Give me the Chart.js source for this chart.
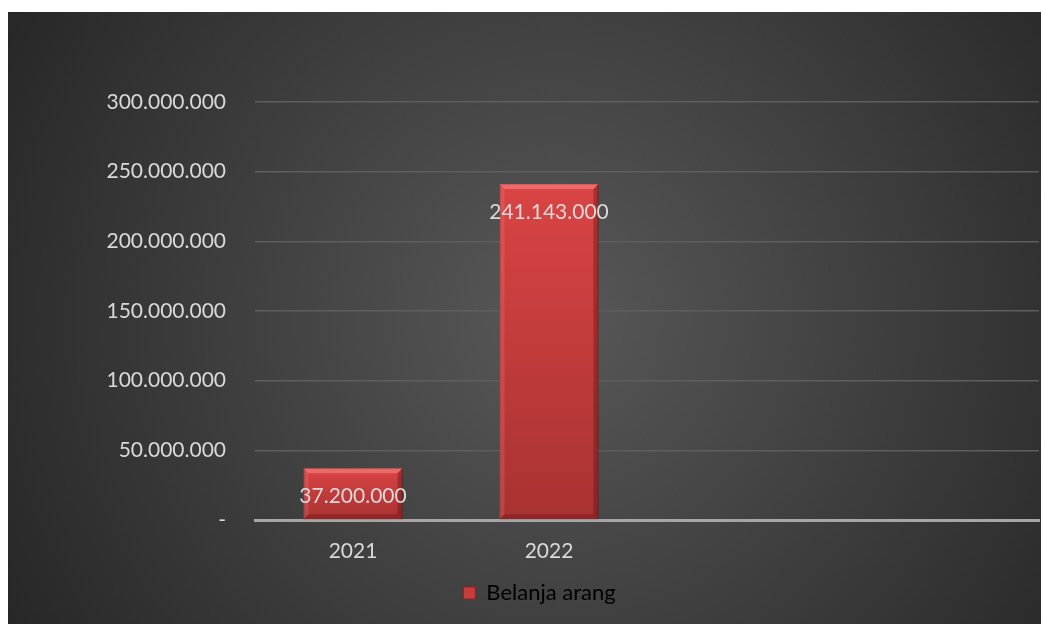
<!DOCTYPE html>
<html>
<head>
<meta charset="utf-8">
<script src="https://cdn.jsdelivr.net/npm/chart.js@4.4.0/dist/chart.umd.min.js"></script>
<style>
  html, body { margin: 0; padding: 0; background: #ffffff; }
  #wrap { position: absolute; left: 8px; top: 12px; width: 1033px; height: 612px; }
</style>
</head>
<body>
<div id="wrap"><canvas id="grafico" width="1033" height="612"></canvas></div>
<script>
// dados do grafico
const categorias = ['2021', '2022', '', ''];
const valores = [37200000, 241143000, null, null];
const nomeSerie = 'Belanja arang';
const ticksY = [0, 50000000, 100000000, 150000000, 200000000, 250000000, 300000000];

const corTexto = '#d9d9d9';
const fonte = 'Lato, "Open Sans", sans-serif';

// formato 1.000.000, zero vira "-"
function formatar(v) {
    if (v === 0) return '-';
    return String(v).replace(/\B(?=(\d{3})+(?!\d))/g, '.');
}

// fundo escuro com degradê radial
const fundo = {
    id: 'fundo',
    beforeDraw(chart) {
        const c = chart.ctx;
        const w = chart.width, h = chart.height;
        const g = c.createRadialGradient(w * 0.53, h * 0.5, 0, w * 0.53, h * 0.5, w * 0.62);
        g.addColorStop(0, '#585858');
        g.addColorStop(1, '#262626');
        c.save();
        c.fillStyle = g;
        c.fillRect(0, 0, w, h);
        c.restore();
    }
};

// efeito de bisel nas barras + rotulos de dados
const rotulos = {
    id: 'rotulos',
    afterDatasetsDraw(chart) {
        const c = chart.ctx;
        const meta = chart.getDatasetMeta(0);
        meta.data.forEach((bar, i) => {
            const v = valores[i];
            if (v == null) return;
            const { x, y, base, width } = bar.getProps(['x', 'y', 'base', 'width'], true);
            const l = x - width / 2, r = x + width / 2;
            const b = 5;
            c.save();
            // topo claro
            c.fillStyle = 'rgba(255,140,140,0.55)';
            c.beginPath();
            c.moveTo(l, y); c.lineTo(r, y); c.lineTo(r - b, y + b); c.lineTo(l + b, y + b); c.closePath();
            c.fill();
            // lados
            c.fillStyle = 'rgba(255,120,120,0.25)';
            c.beginPath();
            c.moveTo(l, y); c.lineTo(l + b, y + b); c.lineTo(l + b, base - b); c.lineTo(l, base); c.closePath();
            c.fill();
            c.fillStyle = 'rgba(90,10,10,0.35)';
            c.beginPath();
            c.moveTo(r, y); c.lineTo(r - b, y + b); c.lineTo(r - b, base - b); c.lineTo(r, base); c.closePath();
            c.fill();
            c.fillStyle = 'rgba(90,10,10,0.3)';
            c.beginPath();
            c.moveTo(l, base); c.lineTo(l + b, base - b); c.lineTo(r - b, base - b); c.lineTo(r, base); c.closePath();
            c.fill();
            // texto
            c.fillStyle = corTexto;
            c.font = '21px ' + fonte;
            c.textAlign = 'center';
            c.textBaseline = 'middle';
            c.fillText(formatar(v), x, y + 28);
            c.restore();
        });
    }
};

const ctx = document.getElementById('grafico').getContext('2d');
const chart = new Chart(ctx, {
    type: 'bar',
    data: {
        labels: categorias,
        datasets: [{
            label: nomeSerie,
            data: valores,
            backgroundColor: (context) => {
                const ch = context.chart;
                const ys = ch.scales.y;
                if (!ys || context.raw == null) return '#c03a3a';
                const topo = ys.getPixelForValue(context.raw);
                const base = ys.getPixelForValue(0);
                const g = ch.ctx.createLinearGradient(0, topo, 0, base);
                g.addColorStop(0, '#da4444');
                g.addColorStop(1, '#a83232');
                return g;
            },
            borderColor: '#8a2424',
            borderWidth: 1,
            categoryPercentage: 1,
            barPercentage: 0.505
        }]
    },
    options: {
        responsive: false,
        animation: false,
        layout: { padding: { top: 90, right: 2, bottom: 10, left: 32 } },
        plugins: {
            legend: {
                position: 'bottom',
                labels: {
                    color: corTexto,
                    font: { family: fonte, size: 22 },
                    boxWidth: 12,
                    boxHeight: 12,
                    padding: 12,
                    generateLabels: (chart) => [{
                        text: nomeSerie,
                        fillStyle: '#c83c3c',
                        strokeStyle: '#8a2424',
                        lineWidth: 1,
                        datasetIndex: 0
                    }]
                }
            },
            tooltip: { enabled: false }
        },
        scales: {
            x: {
                grid: { display: false, drawTicks: false },
                border: { display: true, color: '#a6a6a6', width: 3 },
                ticks: { color: corTexto, font: { family: fonte, size: 21 }, padding: 19 },
                afterFit: (s) => { s.height = 50; }
            },
            y: {
                min: 0,
                max: 300000000,
                afterBuildTicks: (s) => { s.ticks = ticksY.map(v => ({ value: v })); },
                afterFit: (s) => { s.width = 215; },
                grid: { color: '#5e5e5e', lineWidth: 1.5, drawTicks: false },
                border: { display: false },
                ticks: {
                    color: corTexto,
                    font: { family: fonte, size: 21 },
                    padding: 29,
                    callback: (v) => formatar(v)
                }
            }
        }
    },
    plugins: [fundo, rotulos]
});
</script>
</body>
</html>
